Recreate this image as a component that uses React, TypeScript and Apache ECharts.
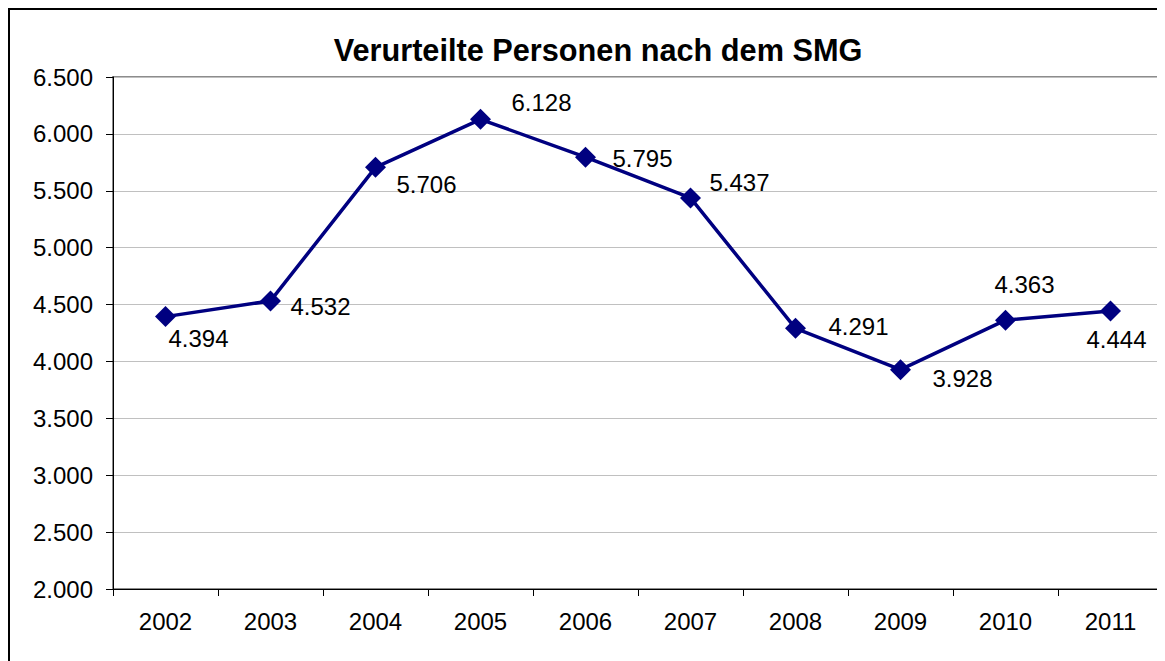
import React, { useEffect, useRef } from "react";
import * as echarts from "echarts";

const years = ["2002", "2003", "2004", "2005", "2006", "2007", "2008", "2009", "2010", "2011"];
const convicted = [4394, 4532, 5706, 6128, 5795, 5437, 4291, 3928, 4363, 4444];
const labelOffsets: [number, number][] = [
  [33, 22], [50, 6], [51, 17], [61, -17], [57, 1],
  [49, -15], [63, -2], [62, 9], [19, -36], [6, 29],
];
const titleText = "Verurteilte Personen nach dem SMG";

const fmt = (v: number) => String(v).replace(/\B(?=(\d{3})+(?!\d))/g, ".");
const FONT = "'Liberation Sans', Arial, sans-serif";

export default function App() {
  const ref = useRef<HTMLDivElement>(null);
  useEffect(() => {
    if (!ref.current) return;
    const chart = echarts.init(ref.current, undefined, { renderer: "svg" });
    chart.setOption({
      animation: false,
      backgroundColor: "#fff",
      title: {
        text: titleText,
        left: 585,
        textAlign: "center",
        top: 22,
        textStyle: { fontFamily: FONT, fontSize: 30.7, fontWeight: "bold", color: "#000" },
      },
      graphic: [
        {
          type: "rect",
          shape: { x: 1, y: 1, width: 3000, height: 3000 },
          style: { fill: "none", stroke: "#000", lineWidth: 2 },
          silent: true,
        },
      ],
      grid: {
        left: 105,
        top: 69,
        right: 2,
        bottom: 72,
        show: true,
        borderColor: "#8c8c8c",
        borderWidth: 2,
        backgroundColor: "transparent",
      },
      xAxis: {
        type: "category",
        data: years,
        boundaryGap: true,
        axisLine: { lineStyle: { color: "#000", width: 1 } },
        axisTick: { show: true, length: 7, lineStyle: { color: "#000" } },
        axisLabel: { fontFamily: FONT, fontSize: 24, color: "#000", margin: 20 },
        splitLine: { show: false },
      },
      yAxis: {
        type: "value",
        min: 2000,
        max: 6500,
        interval: 500,
        axisLine: { show: true, lineStyle: { color: "#000", width: 1 } },
        axisTick: { show: true, length: 7, lineStyle: { color: "#000" } },
        axisLabel: { fontFamily: FONT, fontSize: 24, color: "#000", margin: 20, formatter: (v: number) => fmt(v) },
        splitLine: { show: true, lineStyle: { color: "#c0c0c0", width: 1 } },
      },
      series: [
        {
          type: "line",
          data: convicted.map((v, i) => ({
            value: v,
            label: { offset: labelOffsets[i] },
          })),
          symbol: "diamond",
          symbolSize: 21,
          lineStyle: { color: "#000080", width: 3.5 },
          itemStyle: { color: "#000080" },
          label: {
            show: true,
            position: "inside",
            align: "center",
            verticalAlign: "middle",
            fontFamily: FONT,
            fontSize: 24,
            color: "#000",
            formatter: (p: any) => fmt(p.value),
          },
        },
      ],
    });
    return () => chart.dispose();
  }, []);
  return <div ref={ref} style={{ width: 1157, height: 653 }} />;
}
